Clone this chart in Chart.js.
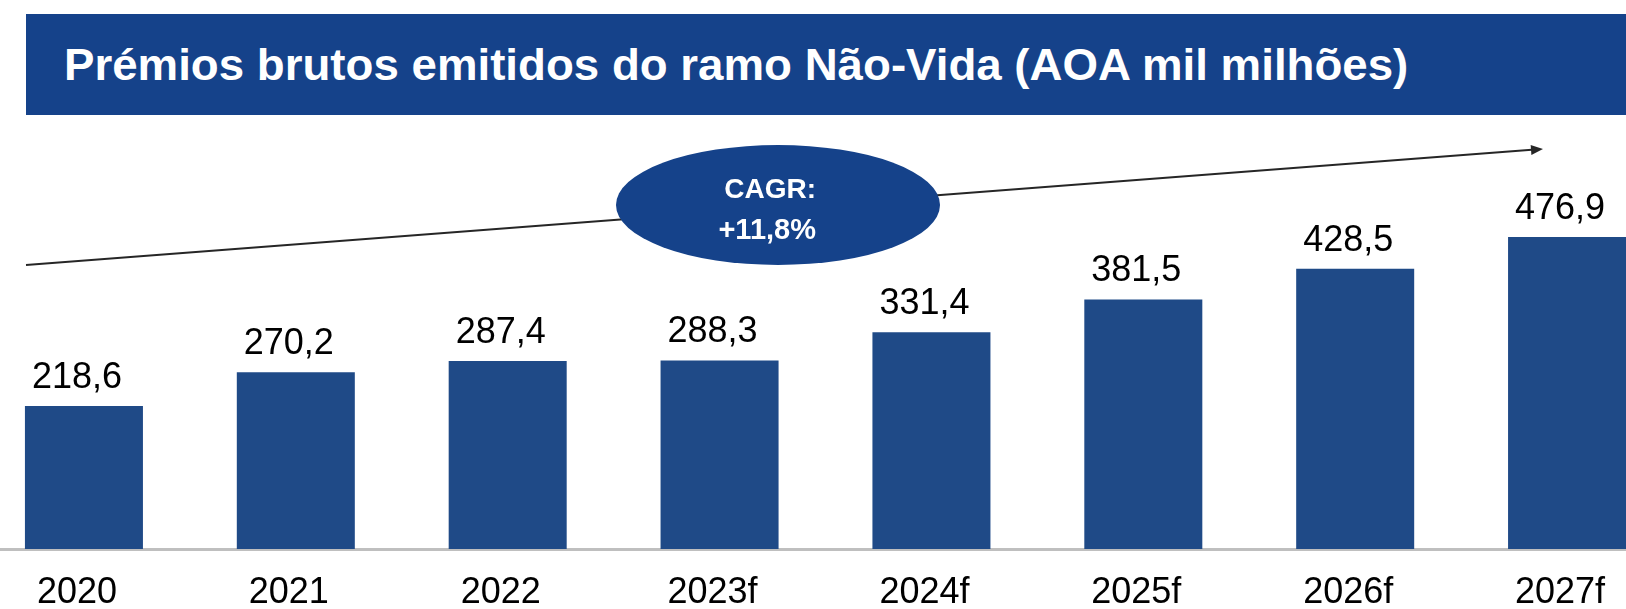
<!DOCTYPE html>
<html>
<head>
<meta charset="utf-8">
<script src="https://cdn.jsdelivr.net/npm/chart.js@4.4.1/dist/chart.umd.min.js"></script>
<style>
  body { margin: 0; width: 1626px; height: 609px; overflow: hidden; background: #fff; position: relative; }
  #banner { position: absolute; left: 26px; top: 14px; width: 1600px; height: 101px; background: #15428A; }
  #titulo { position: absolute; left: 64px; top: 45px; color: #fff; font-family: "Liberation Sans", Arial, sans-serif;
            font-weight: bold; font-size: 44px; line-height: 44px; white-space: nowrap; transform-origin: 0 0; }
  #grafico { position: absolute; left: -22px; top: 0; }
</style>
</head>
<body>
<div id="banner"></div>
<div id="titulo">Prémios brutos emitidos do ramo Não-Vida (AOA mil milhões)</div>
<canvas id="grafico" width="1695" height="609"></canvas>
<script>
// Datos del gráfico
var anos = ['2020', '2021', '2022', '2023f', '2024f', '2025f', '2026f', '2027f'];
var premios = [218.6, 270.2, 287.4, 288.3, 331.4, 381.5, 428.5, 476.9];
var cagrTexto = ['CAGR:', '+11,8%'];

var desplazamiento = 22; // el canvas empieza 22px a la izquierda de la página

// Título: letra algo más alta y comprimida para parecerse a Calibri
(function() {
    var t = document.getElementById('titulo');
    var fs = 44;
    var c = document.createElement('canvas').getContext('2d');
    c.font = 'bold ' + fs + 'px "Liberation Sans"';
    var w = c.measureText(t.textContent).width;
    t.style.transform = 'scaleX(' + (1346 / w) + ')';
    t.style.top = (80 - (fs - fs * 1.117) / 2 - fs * 0.905) + 'px';
})();

// Etiquetas de valor encima de cada barra
var etiquetasValor = {
    id: 'etiquetasValor',
    afterDatasetsDraw: function(chart) {
        var ctx = chart.ctx;
        var meta = chart.getDatasetMeta(0);
        ctx.save();
        ctx.fillStyle = '#000';
        ctx.font = '36px "Liberation Sans"';
        ctx.textAlign = 'center';
        ctx.textBaseline = 'alphabetic';
        meta.data.forEach(function(bar, i) {
            var txt = premios[i].toFixed(1).replace('.', ',');
            ctx.fillText(txt, bar.x - 7, bar.y - 18);
        });
        ctx.restore();
    }
};

// Flecha de tendencia y elipse CAGR
var flechaCagr = {
    id: 'flechaCagr',
    afterDraw: function(chart) {
        var ctx = chart.ctx;
        var x1 = 26 + desplazamiento, y1 = 265;
        var x2 = 1543 + desplazamiento, y2 = 149;
        ctx.save();
        ctx.strokeStyle = '#262626';
        ctx.fillStyle = '#262626';
        ctx.lineWidth = 2;
        var ang = Math.atan2(y2 - y1, x2 - x1);
        ctx.beginPath();
        ctx.moveTo(x1, y1);
        ctx.lineTo(x2 - 8 * Math.cos(ang), y2 - 8 * Math.sin(ang));
        ctx.stroke();
        ctx.beginPath();
        ctx.moveTo(x2, y2);
        ctx.lineTo(x2 - 12 * Math.cos(ang) + 5 * Math.sin(ang), y2 - 12 * Math.sin(ang) - 5 * Math.cos(ang));
        ctx.lineTo(x2 - 12 * Math.cos(ang) - 5 * Math.sin(ang), y2 - 12 * Math.sin(ang) + 5 * Math.cos(ang));
        ctx.closePath();
        ctx.fill();

        // Elipse
        ctx.fillStyle = '#15428A';
        ctx.beginPath();
        ctx.ellipse(778 + desplazamiento, 205, 162, 60, 0, 0, Math.PI * 2);
        ctx.fill();

        ctx.fillStyle = '#fff';
        ctx.font = 'bold 28px "Liberation Sans"';
        ctx.textAlign = 'right';
        ctx.textBaseline = 'alphabetic';
        ctx.fillText(cagrTexto[0], 816 + desplazamiento, 198);
        ctx.font = 'bold 29px "Liberation Sans"';
        ctx.fillText(cagrTexto[1], 816 + desplazamiento, 239);
        ctx.restore();
    }
};

var ctx = document.getElementById('grafico').getContext('2d');
var grafico = new Chart(ctx, {
    type: 'bar',
    data: {
        labels: anos,
        datasets: [{
            label: 'Prémios brutos emitidos',
            data: premios,
            backgroundColor: '#1F4A87',
            borderWidth: 0,
            barPercentage: 0.557,
            categoryPercentage: 1
        }]
    },
    options: {
        responsive: false,
        animation: false,
        devicePixelRatio: 1,
        layout: { padding: { top: 222, left: 0, right: 0, bottom: 0 } },
        plugins: {
            legend: { display: false },
            tooltip: { enabled: false }
        },
        scales: {
            x: {
                grid: { display: false, drawTicks: false },
                border: { display: true, color: '#BFBFBF', width: 3 },
                ticks: {
                    color: '#000',
                    font: { family: 'Liberation Sans', size: 36 },
                    labelOffset: -7,
                    padding: 22
                },
                afterFit: function(scale) { scale.height = 60; }
            },
            y: {
                display: false,
                min: 0,
                max: 500
            }
        }
    },
    plugins: [etiquetasValor, flechaCagr]
});
</script>
</body>
</html>
